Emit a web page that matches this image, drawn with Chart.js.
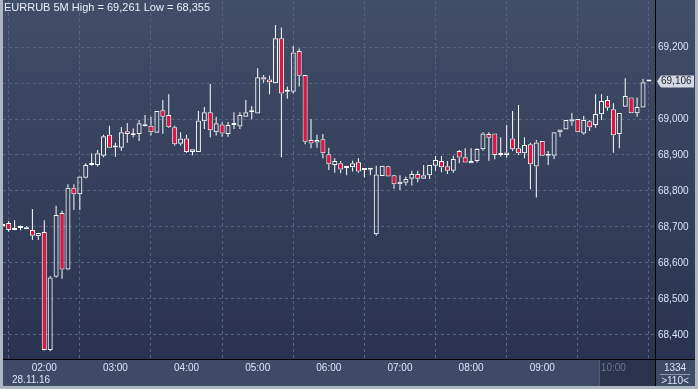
<!DOCTYPE html>
<html>
<head>
<meta charset="utf-8">
<script src="https://cdn.jsdelivr.net/npm/chart.js@4/dist/chart.umd.min.js"></script>
<style>
  html, body { margin: 0; padding: 0; background: #aeb6c3; }
  #wrap { width: 698px; height: 389px; }
</style>
</head>
<body>
<div id="wrap"><canvas id="candles" width="698" height="389"></canvas></div>
<script>
const symbol = 'EURRUB 5M';
const sessionDate = '28.11.16';
const firstBarMinute = 85; // 01:25, first (clipped) bar
const barMinutes = 5;

const opens = [
  68.703, 68.711, 68.692, 68.697, 68.694, 68.692, 68.674, 68.686, 68.358, 68.562,
  68.739, 68.582, 68.809, 68.791, 68.837, 68.872, 68.872, 68.898, 68.956, 68.921,
  68.920, 68.966, 68.955, 68.958, 68.985, 68.981, 68.962, 69.024, 69.011, 68.977,
  68.931, 68.946, 68.908, 68.908, 68.994, 69.019, 68.963, 68.985, 68.958, 68.983,
  68.979, 69.006, 69.019, 69.015, 69.116, 69.110, 69.099, 69.224, 69.076, 69.076,
  69.189, 69.122, 68.942, 68.935, 68.944, 68.902, 68.872, 68.877, 68.864, 68.866,
  68.880, 68.858, 68.859, 68.680, 68.842, 68.869, 68.844, 68.819, 68.823, 68.834,
  68.847, 68.834, 68.844, 68.870, 68.883, 68.869, 68.856, 68.911, 68.894, 68.877,
  68.883, 68.916, 68.958, 68.960, 68.900, 68.900, 68.946, 68.919, 68.905, 68.930,
  68.868, 68.939, 68.898, 68.898, 68.963, 68.971, 68.993, 69.000, 68.960, 68.994,
  68.983, 69.013, 69.053, 69.027, 68.958, 69.034, 69.060, 69.016, 69.032, 69.104
];
const highs = [
  68.708, 68.717, 68.719, 68.704, 68.702, 68.750, 68.683, 68.719, 68.564, 68.759,
  68.745, 68.819, 68.819, 68.840, 68.877, 68.905, 68.914, 68.956, 68.981, 68.934,
  68.978, 68.989, 68.974, 68.997, 69.011, 69.006, 69.022, 69.053, 69.069, 68.981,
  68.963, 68.956, 68.916, 69.022, 69.033, 69.097, 69.006, 68.991, 68.992, 69.019,
  69.019, 69.053, 69.036, 69.141, 69.122, 69.120, 69.261, 69.254, 69.090, 69.203,
  69.196, 69.122, 68.999, 68.956, 68.958, 68.920, 68.891, 68.883, 68.870, 68.884,
  68.891, 68.860, 68.863, 68.870, 68.870, 68.870, 68.845, 68.844, 68.840, 68.856,
  68.856, 68.872, 68.872, 68.897, 68.897, 68.883, 68.898, 68.914, 68.919, 68.919,
  68.919, 68.963, 68.963, 68.960, 68.949, 68.983, 69.022, 69.039, 68.949, 68.934,
  68.942, 68.939, 68.911, 68.963, 68.971, 68.997, 69.017, 69.000, 69.008, 68.997,
  69.069, 69.069, 69.064, 69.044, 69.017, 69.113, 69.060, 69.060, 69.111, 69.107
];
const lows = [
  68.702, 68.687, 68.691, 68.691, 68.694, 68.664, 68.664, 68.357, 68.355, 68.559,
  68.556, 68.580, 68.747, 68.747, 68.835, 68.870, 68.868, 68.894, 68.920, 68.895,
  68.912, 68.934, 68.949, 68.939, 68.979, 68.954, 68.962, 68.959, 68.975, 68.926,
  68.926, 68.906, 68.899, 68.908, 68.972, 68.949, 68.954, 68.951, 68.951, 68.972,
  68.972, 69.006, 68.999, 69.015, 69.101, 69.069, 69.099, 68.894, 69.056, 69.071,
  69.090, 68.930, 68.919, 68.920, 68.891, 68.858, 68.851, 68.849, 68.844, 68.854,
  68.851, 68.838, 68.844, 68.676, 68.842, 68.840, 68.806, 68.803, 68.815, 68.815,
  68.824, 68.834, 68.833, 68.856, 68.852, 68.847, 68.851, 68.877, 68.879, 68.877,
  68.879, 68.912, 68.884, 68.888, 68.895, 68.893, 68.911, 68.900, 68.891, 68.805,
  68.782, 68.898, 68.872, 68.889, 68.951, 68.971, 68.981, 68.963, 68.956, 68.967,
  68.976, 68.997, 69.023, 68.906, 68.919, 69.034, 69.016, 69.006, 69.032, 69.104
];
const closes = [
  68.707, 68.692, 68.697, 68.698, 68.699, 68.676, 68.683, 68.358, 68.560, 68.733,
  68.582, 68.809, 68.791, 68.840, 68.872, 68.873, 68.905, 68.952, 68.920, 68.922,
  68.963, 68.958, 68.958, 68.988, 68.980, 68.963, 69.022, 69.006, 68.977, 68.930,
  68.946, 68.908, 68.916, 68.996, 69.019, 68.969, 68.988, 68.960, 68.983, 68.987,
  69.011, 69.019, 69.020, 69.116, 69.110, 69.102, 69.224, 69.071, 69.077, 69.185,
  69.120, 68.937, 68.932, 68.942, 68.905, 68.874, 68.883, 68.860, 68.865, 68.877,
  68.854, 68.859, 68.860, 68.846, 68.870, 68.840, 68.819, 68.826, 68.833, 68.847,
  68.834, 68.844, 68.872, 68.886, 68.866, 68.856, 68.889, 68.893, 68.879, 68.883,
  68.917, 68.960, 68.948, 68.900, 68.901, 68.907, 68.916, 68.905, 68.928, 68.874,
  68.935, 68.898, 68.899, 68.963, 68.971, 68.997, 68.999, 68.963, 68.997, 68.977,
  69.014, 69.050, 69.031, 68.955, 69.017, 69.064, 69.016, 69.033, 69.102, 69.106
];

const hourLabels = ['02:00', '03:00', '04:00', '05:00', '06:00', '07:00', '08:00', '09:00', '10:00'];
const priceTicks = [68.4, 68.5, 68.6, 68.7, 68.8, 68.9, 69.0, 69.1, 69.2];
const tickCount = '1334';
const barsShown = '>110<';

const barTimes = opens.map((o, i) => firstBarMinute + i * barMinutes);
const hourMinutes = hourLabels.map(l => parseInt(l, 10) * 60);
const fmtPrice = v => v.toFixed(3).replace('.', ',');

const RED = '#e4123e';
const WHITE = '#ffffff';
const TEXT = '#d9e5f7';
const FONT = '"Liberation Sans", Arial, sans-serif';

const upperWick = barTimes.map((t, i) => ({ x: t, y: [Math.max(opens[i], closes[i]), highs[i]] }));
const lowerWick = barTimes.map((t, i) => ({ x: t, y: [lows[i], Math.min(opens[i], closes[i])] }));
const bodies = barTimes.map((t, i) => ({ x: t, y: [opens[i], closes[i]] }));
const bodyColors = opens.map((o, i) => closes[i] < o ? RED : 'rgba(0,0,0,0)');

// background, frame and the extra texts of the terminal look
const frame = {
  id: 'frame',
  beforeDraw(chart) {
    const { ctx, chartArea: a, width, height } = chart;
    const xs = chart.scales.x;
    ctx.save();
    ctx.fillStyle = '#aeb6c3';
    ctx.fillRect(0, 0, width, height);
    const g = ctx.createLinearGradient(0, 0, 0, a.bottom);
    g.addColorStop(0, '#414e68');
    g.addColorStop(1, '#29334f');
    ctx.fillStyle = g;
    ctx.fillRect(a.left, 0, width - 3 - a.left, a.bottom);
    ctx.fillStyle = '#3e4a66';
    ctx.fillRect(a.left, a.bottom, width - 3 - a.left, height - 3 - a.bottom);
    // unfinished hour box under 10:00
    const bx = Math.round(xs.getPixelForValue(588));
    ctx.fillStyle = '#29334b';
    ctx.fillRect(bx, a.bottom + 1, a.right - bx, height - 4 - a.bottom);
    ctx.fillStyle = '#4f5b73';
    ctx.fillRect(bx, a.bottom + 1, 1, height - 4 - a.bottom);
    ctx.restore();
  },
  afterDraw(chart) {
    const { ctx, chartArea: a, width, height } = chart;
    const ys = chart.scales.y;
    ctx.save();
    ctx.fillStyle = '#000000';
    ctx.fillRect(Math.round(a.right), 0, 1, height - 3);
    ctx.fillRect(a.left, Math.round(a.bottom), width - 3 - a.left, 1);

    ctx.font = '11px ' + FONT;
    ctx.textBaseline = 'middle';
    ctx.textAlign = 'left';
    ctx.fillStyle = '#e8eef8';
    const hi = Math.max(...highs), lo = Math.min(...lows);
    ctx.fillText(symbol + ' High = ' + fmtPrice(hi) + ' Low = ' + fmtPrice(lo), 4, 8);

    ctx.font = '10px ' + FONT;
    ctx.fillStyle = TEXT;
    ctx.fillText(sessionDate, 12, 380);

    // last price marker
    const last = closes[closes.length - 1];
    const py = Math.round(ys.getPixelForValue(last)) + 0.5;
    const x0 = Math.round(a.right) + 2;
    ctx.beginPath();
    ctx.moveTo(x0, py);
    ctx.lineTo(x0 + 4, py - 6);
    ctx.lineTo(width - 4, py - 6);
    ctx.lineTo(width - 4, py + 6);
    ctx.lineTo(x0 + 4, py + 6);
    ctx.closePath();
    ctx.fillStyle = '#d3d7df';
    ctx.fill();
    ctx.fillStyle = '#1b2232';
    ctx.fillText(fmtPrice(last), x0 + 4, py);

    // bar counters in the corner
    const cx = (a.right + width - 3) / 2;
    ctx.textAlign = 'center';
    ctx.fillStyle = TEXT;
    ctx.fillText(tickCount, cx, 368);
    ctx.fillText(barsShown, cx, 381);
    ctx.fillStyle = '#8d99ae';
    ctx.fillRect(cx - 15, 374, 30, 1);
    ctx.restore();
  }
};

const ctx = document.getElementById('candles').getContext('2d');
new Chart(ctx, {
  type: 'bar',
  data: {
    datasets: [
      {
        label: 'upper wick',
        data: upperWick,
        backgroundColor: WHITE,
        borderWidth: 0,
        barThickness: 1,
        inflateAmount: 0,
        grouped: false
      },
      {
        label: 'lower wick',
        data: lowerWick,
        backgroundColor: WHITE,
        borderWidth: 0,
        barThickness: 1,
        inflateAmount: 0,
        grouped: false
      },
      {
        label: 'body',
        data: bodies,
        backgroundColor: bodyColors,
        borderColor: WHITE,
        borderWidth: 1,
        borderSkipped: false,
        barThickness: 5,
        minBarLength: 2,
        inflateAmount: 0,
        grouped: false
      }
    ]
  },
  options: {
    responsive: false,
    animation: false,
    devicePixelRatio: 1,
    layout: { padding: { left: 3, top: 1, right: 0, bottom: 0 } },
    plugins: {
      legend: { display: false },
      title: { display: false },
      tooltip: { enabled: false }
    },
    scales: {
      x: {
        type: 'linear',
        offset: false,
        min: 85.2,
        max: 635.1,
        afterBuildTicks: s => { s.ticks = hourMinutes.map(v => ({ value: v })); },
        afterFit: s => { s.height = 30; s.paddingLeft = 0; s.paddingRight = 0; },
        ticks: {
          callback: (v, i) => hourLabels[i],
          color: c => c.tick && c.tick.value === 600 ? '#6b7790' : TEXT,
          font: { family: FONT, size: 10 },
          padding: 3,
          maxRotation: 0,
          autoSkip: false
        },
        grid: { color: '#56657f', drawTicks: false },
        border: { display: false, dash: [3, 3] }
      },
      y: {
        position: 'right',
        min: 68.33333,
        max: 69.32778,
        afterBuildTicks: s => { s.ticks = priceTicks.map(v => ({ value: v })); },
        afterFit: s => { s.width = 43; s.paddingTop = 0; s.paddingBottom = 0; },
        ticks: {
          callback: v => fmtPrice(v),
          color: TEXT,
          font: { family: FONT, size: 10 },
          padding: 3
        },
        grid: { color: '#56657f', drawTicks: false },
        border: { display: false, dash: [3, 3] }
      }
    }
  },
  plugins: [frame]
});
</script>
</body>
</html>
